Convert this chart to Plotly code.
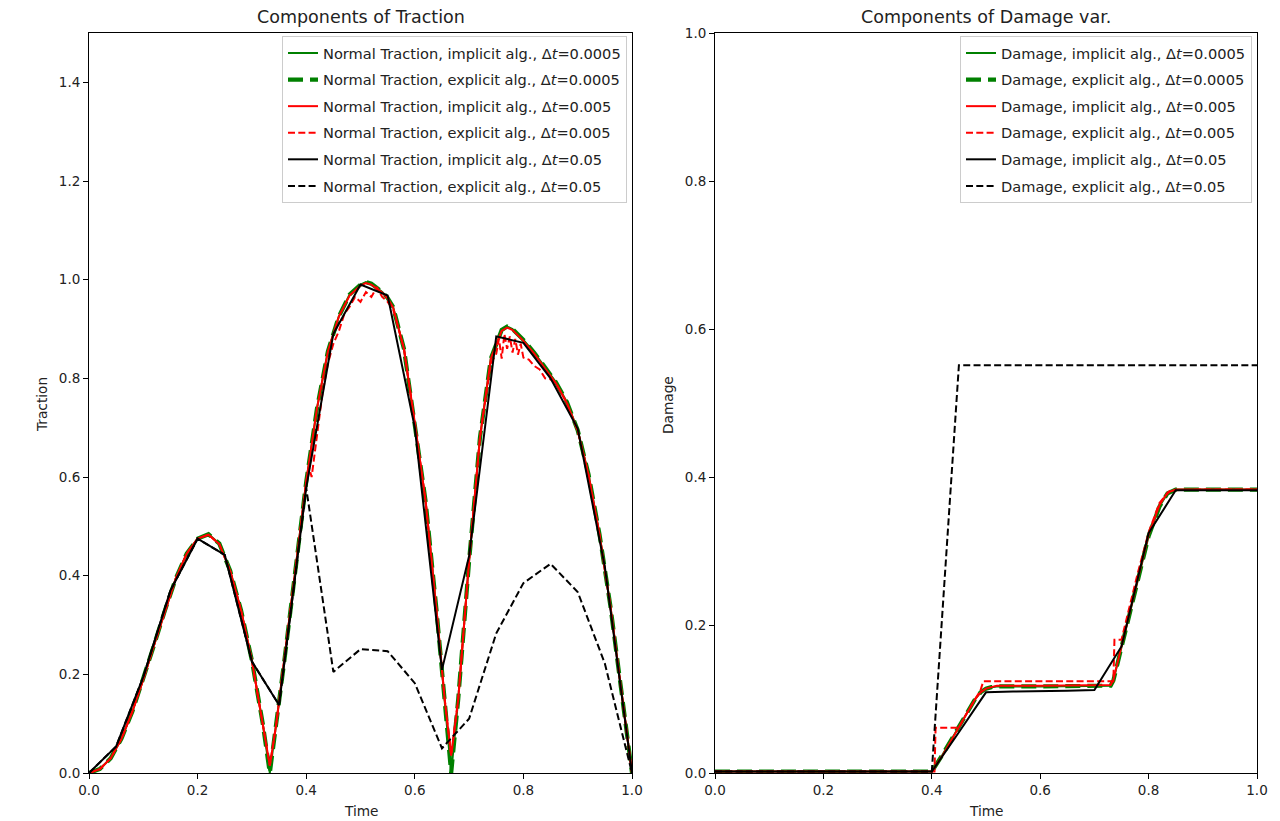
import plotly.graph_objects as go

# ---------------- Traction data ----------------
t_fine = [0.0, 0.02, 0.04, 0.06, 0.08, 0.10, 0.12, 0.14, 0.16, 0.18, 0.20, 0.22, 0.24,
          0.26, 0.28, 0.30, 0.32, 0.333, 0.345, 0.36, 0.38, 0.40, 0.42, 0.44, 0.46, 0.48,
          0.50, 0.51, 0.52, 0.54, 0.55, 0.56, 0.58, 0.60, 0.62, 0.64, 0.655, 0.667, 0.68,
          0.70, 0.72, 0.74, 0.76, 0.77, 0.78, 0.80, 0.82, 0.84, 0.86, 0.88, 0.90, 0.92,
          0.94, 0.96, 0.98, 1.0]
trac_imp_0005 = [0.0, 0.008, 0.03, 0.07, 0.125, 0.19, 0.26, 0.33, 0.395, 0.445, 0.475, 0.484,
                 0.465, 0.41, 0.33, 0.228, 0.10, 0.0, 0.10, 0.23, 0.41, 0.59, 0.74, 0.855,
                 0.925, 0.97, 0.99, 0.995, 0.992, 0.975, 0.963, 0.945, 0.86, 0.71, 0.55, 0.33,
                 0.15, 0.0, 0.15, 0.43, 0.68, 0.84, 0.898, 0.905, 0.90, 0.878, 0.852, 0.822,
                 0.792, 0.752, 0.695, 0.605, 0.485, 0.34, 0.17, 0.0]
trac_exp_0005 = [0.0, 0.008, 0.03, 0.07, 0.125, 0.19, 0.26, 0.33, 0.395, 0.445, 0.475, 0.484,
                 0.465, 0.41, 0.33, 0.228, 0.10, 0.0, 0.10, 0.23, 0.41, 0.59, 0.74, 0.855,
                 0.925, 0.97, 0.99, 0.995, 0.992, 0.975, 0.963, 0.945, 0.86, 0.71, 0.55, 0.33,
                 0.15, 0.0, 0.15, 0.43, 0.68, 0.84, 0.898, 0.905, 0.90, 0.878, 0.852, 0.822,
                 0.792, 0.752, 0.695, 0.605, 0.485, 0.34, 0.17, 0.0]
trac_imp_005 = [0.0, 0.008, 0.03, 0.07, 0.125, 0.19, 0.26, 0.33, 0.395, 0.445, 0.475, 0.483,
                0.464, 0.41, 0.33, 0.228, 0.10, 0.015, 0.10, 0.23, 0.41, 0.59, 0.74, 0.855,
                0.925, 0.968, 0.988, 0.993, 0.99, 0.974, 0.962, 0.944, 0.86, 0.71, 0.55, 0.33,
                0.15, 0.035, 0.15, 0.43, 0.68, 0.84, 0.896, 0.903, 0.898, 0.876, 0.85, 0.82,
                0.79, 0.75, 0.694, 0.604, 0.484, 0.34, 0.17, 0.0]

t_exp_005 = [0.0, 0.02, 0.04, 0.06, 0.08, 0.10, 0.12, 0.14, 0.16, 0.18, 0.20, 0.22, 0.24,
             0.26, 0.28, 0.30, 0.32, 0.333, 0.345, 0.36, 0.38, 0.40, 0.405, 0.41, 0.42, 0.43,
             0.44, 0.45, 0.46, 0.47, 0.48, 0.49, 0.50, 0.51, 0.52, 0.53, 0.54, 0.55, 0.56,
             0.58, 0.60, 0.62, 0.64, 0.655, 0.667, 0.68, 0.70, 0.72, 0.74, 0.75, 0.755, 0.76,
             0.765, 0.77, 0.775, 0.78, 0.785, 0.79, 0.795, 0.80, 0.81, 0.82, 0.83, 0.84,
             0.85, 0.86, 0.88, 0.90, 0.92, 0.94, 0.96, 0.98, 1.0]
trac_exp_005 = [0.0, 0.008, 0.03, 0.07, 0.125, 0.19, 0.26, 0.33, 0.395, 0.445, 0.475, 0.483,
                0.464, 0.41, 0.33, 0.228, 0.10, 0.015, 0.10, 0.23, 0.41, 0.59, 0.62, 0.60,
                0.69, 0.77, 0.83, 0.87, 0.895, 0.93, 0.945, 0.965, 0.955, 0.975, 0.965, 0.985,
                0.965, 0.955, 0.94, 0.86, 0.71, 0.55, 0.33, 0.15, 0.035, 0.15, 0.43, 0.68,
                0.83, 0.85, 0.88, 0.84, 0.89, 0.86, 0.885, 0.852, 0.88, 0.848, 0.87, 0.842,
                0.838, 0.825, 0.818, 0.80, 0.798, 0.79, 0.75, 0.694, 0.604, 0.484, 0.34, 0.17,
                0.0]

t_coarse = [0.0, 0.05, 0.10, 0.15, 0.20, 0.25, 0.30, 0.35, 0.40, 0.45, 0.50, 0.55, 0.60,
            0.65, 0.70, 0.75, 0.80, 0.85, 0.90, 0.95, 1.0]
trac_imp_05 = [0.0, 0.054, 0.195, 0.37, 0.475, 0.442, 0.226, 0.138, 0.578, 0.89, 0.99, 0.968,
               0.70, 0.209, 0.44, 0.885, 0.872, 0.80, 0.698, 0.418, 0.0]
trac_exp_05 = [0.0, 0.054, 0.195, 0.37, 0.475, 0.442, 0.226, 0.138, 0.578, 0.205, 0.251, 0.247,
               0.182, 0.05, 0.11, 0.283, 0.385, 0.424, 0.367, 0.222, 0.0]

# ---------------- Damage data ----------------
t_dmg = [0.0, 0.10, 0.20, 0.30, 0.40, 0.42, 0.44, 0.46, 0.48, 0.49, 0.50, 0.51, 0.52, 0.60,
         0.70, 0.72, 0.73, 0.735, 0.75, 0.76, 0.78, 0.80, 0.82, 0.835, 0.85, 0.90, 1.0]
dmg_imp_0005 = [0.002, 0.002, 0.002, 0.002, 0.002, 0.025, 0.05, 0.075, 0.10, 0.109, 0.114,
                0.116, 0.117, 0.117, 0.117, 0.117, 0.118, 0.125, 0.17, 0.20, 0.26, 0.32, 0.36,
                0.378, 0.383, 0.383, 0.383]
dmg_exp_0005 = [0.002, 0.002, 0.002, 0.002, 0.002, 0.025, 0.05, 0.075, 0.10, 0.109, 0.114,
                0.116, 0.117, 0.117, 0.117, 0.117, 0.118, 0.125, 0.17, 0.20, 0.26, 0.32, 0.36,
                0.378, 0.383, 0.383, 0.383]
dmg_imp_005 = [0.002, 0.002, 0.002, 0.002, 0.002, 0.024, 0.049, 0.074, 0.10, 0.109, 0.114,
               0.116, 0.118, 0.118, 0.118, 0.118, 0.119, 0.126, 0.17, 0.20, 0.262, 0.322,
               0.362, 0.379, 0.383, 0.383, 0.383]

t_dmg_exp_005 = [0.0, 0.10, 0.20, 0.30, 0.405, 0.407, 0.45, 0.46, 0.48, 0.49, 0.495, 0.60,
                 0.70, 0.735, 0.737, 0.75, 0.76, 0.78, 0.80, 0.82, 0.84, 0.90, 1.0]
dmg_exp_005 = [0.002, 0.002, 0.002, 0.002, 0.002, 0.061, 0.061, 0.075, 0.10, 0.112, 0.124,
               0.124, 0.124, 0.124, 0.18, 0.18, 0.21, 0.27, 0.325, 0.365, 0.382, 0.383, 0.383]

dmg_imp_05 = [0.002, 0.002, 0.002, 0.002, 0.002, 0.002, 0.002, 0.002, 0.002, 0.055, 0.109,
              0.11, 0.11, 0.111, 0.112, 0.171, 0.324, 0.382, 0.382, 0.382, 0.382]
dmg_exp_05 = [0.002, 0.002, 0.002, 0.002, 0.002, 0.002, 0.002, 0.002, 0.002, 0.551, 0.551,
              0.551, 0.551, 0.551, 0.551, 0.551, 0.551, 0.551, 0.551, 0.551, 0.551]

trac_labels = ["Normal Traction, implicit alg., Δ<i>t</i>=0.0005",
               "Normal Traction, explicit alg., Δ<i>t</i>=0.0005",
               "Normal Traction, implicit alg., Δ<i>t</i>=0.005",
               "Normal Traction, explicit alg., Δ<i>t</i>=0.005",
               "Normal Traction, implicit alg., Δ<i>t</i>=0.05",
               "Normal Traction, explicit alg., Δ<i>t</i>=0.05"]
dmg_labels = ["Damage, implicit alg., Δ<i>t</i>=0.0005",
              "Damage, explicit alg., Δ<i>t</i>=0.0005",
              "Damage, implicit alg., Δ<i>t</i>=0.005",
              "Damage, explicit alg., Δ<i>t</i>=0.005",
              "Damage, implicit alg., Δ<i>t</i>=0.05",
              "Damage, explicit alg., Δ<i>t</i>=0.05"]

styles = [
    dict(color="#008000", width=2, dash="solid"),
    dict(color="#008000", width=4.2, dash="15px,7px"),
    dict(color="#ff0000", width=2, dash="solid"),
    dict(color="#ff0000", width=2, dash="7px,3.3px"),
    dict(color="#000000", width=2, dash="solid"),
    dict(color="#000000", width=2, dash="7px,3.3px"),
]

FONT = "DejaVu Sans"
W, H = 1264, 813   # page has an 8px body margin; figure fills the rest of the 1280x821 window
OFF = 8

fig = go.Figure()

trac_series = [(t_fine, trac_imp_0005), (t_fine, trac_exp_0005), (t_fine, trac_imp_005),
               (t_exp_005, trac_exp_005), (t_coarse, trac_imp_05), (t_coarse, trac_exp_05)]
dmg_series = [(t_dmg, dmg_imp_0005), (t_dmg, dmg_exp_0005), (t_dmg, dmg_imp_005),
              (t_dmg_exp_005, dmg_exp_005), (t_coarse, dmg_imp_05), (t_coarse, dmg_exp_05)]

for i, ((x, y), name) in enumerate(zip(trac_series, trac_labels)):
    fig.add_trace(go.Scatter(x=x, y=y, mode="lines", name=name, line=styles[i],
                             xaxis="x", yaxis="y", legend="legend",
                             legendgroup="a%d" % i))
for i, ((x, y), name) in enumerate(zip(dmg_series, dmg_labels)):
    fig.add_trace(go.Scatter(x=x, y=y, mode="lines", name=name, line=styles[i],
                             xaxis="x2", yaxis="y2", legend="legend2",
                             legendgroup="b%d" % i))


def px_x(p):
    return (p - OFF) / W


def px_y(p):
    return 1 - (p - OFF) / H


axis_common = dict(showline=True, linecolor="black", linewidth=1, mirror=True,
                   ticks="outside", ticklen=5, tickwidth=1, tickcolor="black",
                   showgrid=False, zeroline=False, automargin=False,
                   tickfont=dict(family=FONT, size=13.5, color="#222222"))

ydom = [px_y(773), px_y(33)]
leg_font = dict(family=FONT, size=14.6, color="#222222")
fig.update_layout(
    width=W, height=H,
    margin=dict(l=0, r=0, t=0, b=0),
    paper_bgcolor="white", plot_bgcolor="white",
    font=dict(family=FONT, size=13.5, color="black"),
    xaxis=dict(domain=[px_x(89), px_x(632)], range=[0, 1], tickvals=[0, 0.2, 0.4, 0.6, 0.8, 1.0],
               tickformat=".1f", anchor="y", **axis_common),
    yaxis=dict(domain=ydom, range=[0, 1.5], tickvals=[0, 0.2, 0.4, 0.6, 0.8, 1.0, 1.2, 1.4],
               tickformat=".1f", anchor="x", **axis_common),
    xaxis2=dict(domain=[px_x(715), px_x(1257)], range=[0, 1],
                tickvals=[0, 0.2, 0.4, 0.6, 0.8, 1.0], tickformat=".1f", anchor="y2",
                **axis_common),
    yaxis2=dict(domain=ydom, range=[0, 1], tickvals=[0, 0.2, 0.4, 0.6, 0.8, 1.0],
                tickformat=".1f", anchor="x2", **axis_common),
    legend=dict(x=px_x(627), y=px_y(36), xanchor="right", yanchor="top",
                bgcolor="rgba(255,255,255,0.8)", bordercolor="#cccccc", borderwidth=1,
                font=leg_font, traceorder="grouped", tracegroupgap=4.6),
    legend2=dict(x=px_x(1252), y=px_y(36), xanchor="right", yanchor="top",
                 bgcolor="rgba(255,255,255,0.8)", bordercolor="#cccccc", borderwidth=1,
                 font=leg_font, traceorder="grouped", tracegroupgap=4.6),
    showlegend=True,
)

annots = [
    dict(text="Components of Traction", x=px_x(361), y=px_y(17), size=17.5, angle=0),
    dict(text="Components of Damage var.", x=px_x(986), y=px_y(17), size=17.5, angle=0),
    dict(text="Time", x=px_x(361), y=px_y(811), size=13.7, angle=0),
    dict(text="Time", x=px_x(986), y=px_y(811), size=13.7, angle=0),
    dict(text="Traction", x=px_x(42), y=px_y(405), size=13.7, angle=-90),
    dict(text="Damage", x=px_x(668), y=px_y(405), size=13.7, angle=-90),
]
for a in annots:
    fig.add_annotation(text=a["text"], x=a["x"], y=a["y"], xref="paper", yref="paper",
                       xanchor="center", yanchor="middle", showarrow=False,
                       textangle=a["angle"],
                       font=dict(family=FONT, size=a["size"], color="#222222"))

fig.write_html("out.html")
